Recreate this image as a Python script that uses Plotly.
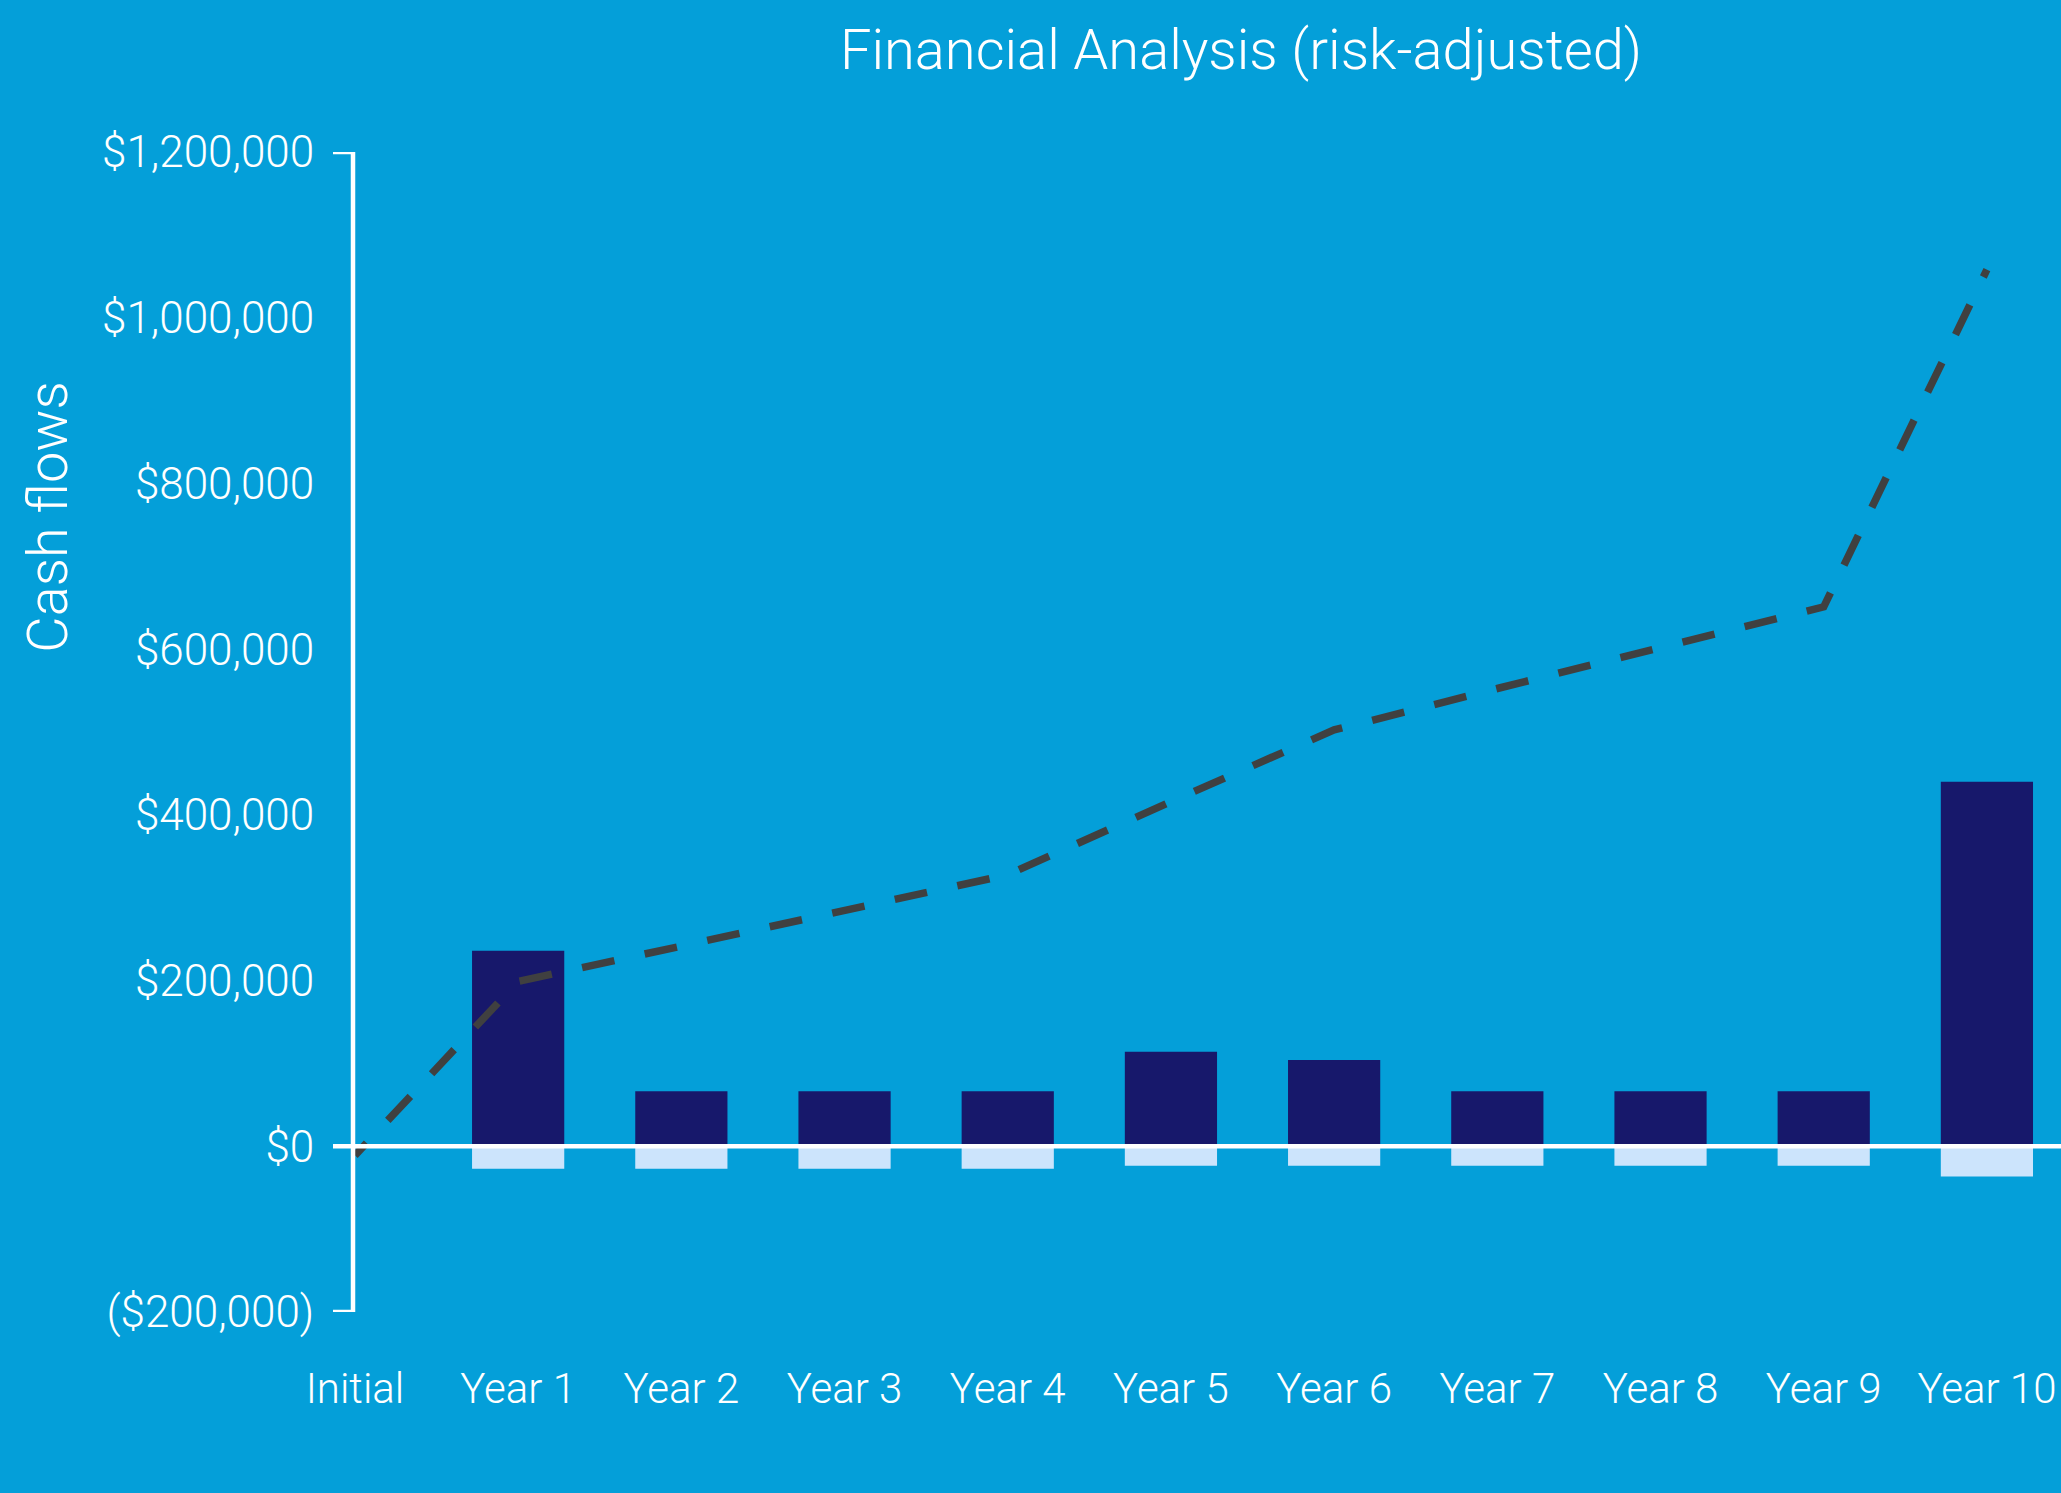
import plotly.graph_objects as go

categories = ["Initial", "Year 1", "Year 2", "Year 3", "Year 4", "Year 5",
              "Year 6", "Year 7", "Year 8", "Year 9", "Year 10"]
benefits = [None, 236000, 66500, 66500, 66500, 114000, 104000, 66500, 66500, 66500, 440000]
costs = [None, -27000, -27000, -27000, -27000, -23500, -23500, -23500, -23500, -23500, -36600]
cumulative = [-11000, 199000, 241600, 284600, 327700, 416000, 502500, 552500, 601400, 651000, 1058000]

y_tickvals = [1200000, 1000000, 800000, 600000, 400000, 200000, 0, -200000]
y_ticktext = ["$1,200,000", "$1,000,000", "$800,000", "$600,000", "$400,000",
              "$200,000", "$0", "($200,000)"]

BG = "#049FD9"
FONT = "Roboto"

# dash pattern: short leading dash, then regular 33/31 dashes
dash_pattern = "17px,31px," + ",".join(["33px,31px"] * 40)

fig = go.Figure()
fig.add_trace(go.Bar(x=categories, y=benefits, width=0.565, marker_color="#17186B",
                     marker_line_width=0, name="Benefits"))
fig.add_trace(go.Bar(x=categories, y=costs, width=0.565, marker_color="#CCE4FC",
                     marker_line_width=0, name="Costs"))
fig.add_trace(go.Scatter(x=categories, y=cumulative, mode="lines",
                         line=dict(color="#404040", width=7.5, dash=dash_pattern),
                         name="Cumulative"))

W, H = 2061, 1493
L, R, T, B = 353, 0, 152, 181
pw = W - L - R

# axis bracket and zero line
tick_len = 20 / pw
fig.add_shape(type="path", xref="paper", yref="y",
              path=f"M {-tick_len},1200000 L 0,1200000 L 0,-200000 L {-tick_len},-200000",
              line=dict(color="white", width=4.5), layer="above")
fig.add_shape(type="line", xref="paper", yref="y", x0=-tick_len, x1=1, y0=0, y1=0,
              line=dict(color="white", width=4.5), layer="above")

fig.add_annotation(text="Cash flows", xref="paper", yref="paper",
                   x=(48 - L) / pw, y=(1312.3 - 517) / 1160, textangle=-90,
                   showarrow=False, xanchor="center", yanchor="middle",
                   font=dict(family=FONT, size=56, color="white", weight=300))

fig.update_layout(
    width=W, height=H,
    margin=dict(l=L, r=R, t=T, b=B, autoexpand=False),
    paper_bgcolor=BG, plot_bgcolor=BG,
    barmode="relative",
    showlegend=False,
    title=dict(text="Financial Analysis (risk-adjusted)", x=(1241 - L) / pw,
               xref="paper", xanchor="center", y=1 - 49 / H, yref="container",
               yanchor="middle",
               font=dict(family=FONT, size=56, color="white", weight=300)),
    font=dict(family=FONT, color="white", weight=300),
)
fig.update_xaxes(type="category", range=[-0.012, 10.454], showgrid=False, zeroline=False,
                 showline=False, ticks="outside", ticklen=40, tickcolor="rgba(0,0,0,0)",
                 tickfont=dict(family=FONT, size=42, color="white", weight=300))
fig.update_yaxes(range=[-200000, 1200000], tickvals=y_tickvals, ticktext=y_ticktext,
                 showgrid=False, zeroline=False, showline=False, ticks="outside",
                 ticklen=29, tickcolor="rgba(0,0,0,0)",
                 tickfont=dict(family=FONT, size=44, color="white", weight=300))

fig.write_html("out.html", config={"displayModeBar": False},
               post_script="document.body.style.margin='0';document.body.style.overflow='hidden';")
